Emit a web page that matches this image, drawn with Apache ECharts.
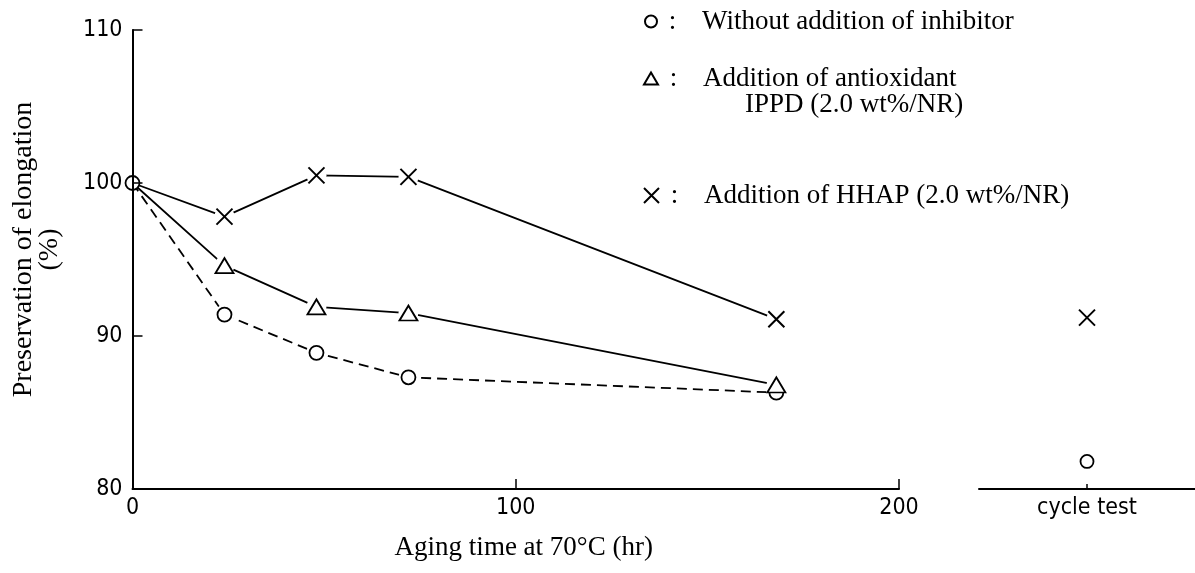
<!DOCTYPE html>
<html><head><meta charset="utf-8">
<script src="https://cdn.jsdelivr.net/npm/echarts@6/dist/echarts.min.js"></script>
<style>html,body{margin:0;padding:0;background:#fff}#c{width:1195px;height:573px}</style>
</head><body><div id="c"></div>
<script>
// ---- data ----
var times = [0, 24, 48, 72, 168];
var noInhibitor = [100, 91.4, 88.9, 87.3, 86.3];
var ippd = [100, 94.6, 91.9, 91.5, 86.8];
var hhap = [100, 97.8, 100.5, 100.4, 91.1];
var cycleCategories = ['cycle test'];
var cycleNoInhibitor = [81.8];
var cycleHhap = [91.2];
var yTickValues = [80, 90, 100, 110];
var xTickValues = [0, 100, 200];
var seriesNames = ['Without addition of inhibitor', 'Addition of antioxidant IPPD (2.0 wt%/NR)', 'Addition of HHAP (2.0 wt%/NR)'];
var xTitle = 'Aging time at 70\u00B0C (hr)';
var yTitle = 'Preservation of elongation\n(%)';

// ---- helpers ----
function pts(xs, ys, from) { return xs.map(function (x, i) { return [x, ys[i]]; }).slice(from || 0); }
var SERIF = 'Liberation Serif, Times New Roman, serif';
var NARROW = 'DejaVu Sans Condensed, Liberation Sans, sans-serif';
var X_PATH = 'path://M0,0L10,10M10,0L0,10';
var yMin = yTickValues[0], yMax = yTickValues[yTickValues.length - 1], yStep = yTickValues[1] - yTickValues[0];
var xMin = xTickValues[0], xMax = xTickValues[xTickValues.length - 1], xStep = xTickValues[1] - xTickValues[0];

var markerStyle = { color: '#fff', borderColor: '#000', borderWidth: 1.8, opacity: 1 };
var xStyle = { color: 'transparent', borderColor: '#000', borderWidth: 2, opacity: 1 };

var richText = {
  e: { fontFamily: SERIF, fontSize: 27, lineHeight: 26 },
  c: { fontFamily: SERIF, fontSize: 27, lineHeight: 26, width: 40, align: 'left', color: '#000' },
  i: { width: 42, lineHeight: 26 },
  t: { fontFamily: SERIF, fontSize: 27, lineHeight: 26, color: '#000' }
};
function legendFmt(name) {
  if (name === seriesNames[1]) {
    return '{e| }\n{c| :}{t|Addition of antioxidant}\n{c| }{i| }{t|IPPD (2.0 wt%/NR)}';
  }
  return '{c| :}{t|' + name + '}';
}
function mkLegend(name, left, top, w, h) {
  return {
    data: [name], left: left, top: top, itemWidth: w, itemHeight: h, padding: 0,
    selectedMode: false, formatter: legendFmt,
    textStyle: { rich: richText, color: '#000' }
  };
}

var chart = echarts.init(document.getElementById('c'), null, { renderer: 'canvas' });
chart.setOption({
  backgroundColor: '#fff',
  animation: false,
  legend: [
    mkLegend(seriesNames[0], 644, 8, 12, 12),
    mkLegend(seriesNames[1], 643, 39, 14, 12),
    mkLegend(seriesNames[2], 643, 182, 15, 15)
  ],
  grid: [
    { left: 132.5, top: 30, width: 766.5, height: 459 },
    { left: 979, top: 30, width: 222, height: 459 }
  ],
  xAxis: [
    {
      type: 'value', gridIndex: 0, min: xMin, max: xMax, interval: xStep,
      name: xTitle, nameLocation: 'middle', nameGap: 45,
      nameTextStyle: { fontFamily: SERIF, fontSize: 27, color: '#000', padding: [0, 0, 0, 16] },
      axisLine: { show: true, lineStyle: { color: '#000', width: 2 } },
      axisTick: { show: true, inside: true, length: 10, lineStyle: { color: '#000', width: 1.5 } },
      axisLabel: { margin: 8, fontFamily: NARROW, fontSize: 23, color: '#000' },
      splitLine: { show: false }
    },
    {
      type: 'category', gridIndex: 1, data: cycleCategories, boundaryGap: true,
      axisLine: { show: true, lineStyle: { color: '#000', width: 2 } },
      axisTick: { show: true, inside: true, alignWithLabel: true, length: 5, lineStyle: { color: '#000', width: 1.5 } },
      axisLabel: { margin: 8, fontFamily: NARROW, fontSize: 23, color: '#000' },
      splitLine: { show: false }
    }
  ],
  yAxis: [
    {
      type: 'value', gridIndex: 0, min: yMin, max: yMax, interval: yStep, z: 10,
      name: yTitle, nameLocation: 'middle', nameGap: 70, nameRotate: 90,
      nameTextStyle: { fontFamily: SERIF, fontSize: 28, lineHeight: 26, color: '#000', padding: [0, 0, 0, 20] },
      axisLine: { show: true, lineStyle: { color: '#000', width: 2 } },
      axisTick: { show: true, inside: true, length: 10, lineStyle: { color: '#000', width: 1.5 } },
      axisLabel: { margin: 10, fontFamily: NARROW, fontSize: 23, color: '#000' },
      splitLine: { show: false }
    },
    { type: 'value', gridIndex: 1, min: yMin, max: yMax, show: false, splitLine: { show: false } }
  ],
  series: [
    { name: '_l0', type: 'line', data: pts(times, noInhibitor), symbol: 'none', z: 2,
      lineStyle: { color: '#000', width: 1.8, type: [10, 6] } },
    { name: '_l1', type: 'line', data: pts(times, ippd), symbol: 'none', z: 2,
      lineStyle: { color: '#000', width: 1.8 } },
    { name: '_l2', type: 'line', data: pts(times, hhap), symbol: 'none', z: 2,
      lineStyle: { color: '#000', width: 1.8 } },
    { name: '_bg', type: 'scatter', z: 3, symbol: 'circle', symbolSize: 20,
      itemStyle: { color: '#fff', opacity: 1 },
      data: pts(times, noInhibitor, 1).concat(pts(times, ippd, 1), pts(times, hhap, 1)) },
    { name: seriesNames[0], type: 'scatter', z: 4, symbol: 'circle', symbolSize: 14,
      itemStyle: markerStyle, data: pts(times, noInhibitor) },
    { name: seriesNames[1], type: 'scatter', z: 4, symbol: 'triangle', symbolSize: [18, 15],
      itemStyle: markerStyle, data: pts(times, ippd, 1) },
    { name: seriesNames[2], type: 'scatter', z: 4, symbol: X_PATH, symbolSize: 16,
      itemStyle: xStyle, data: pts(times, hhap, 1) },
    { name: seriesNames[0], type: 'scatter', xAxisIndex: 1, yAxisIndex: 1, z: 4, symbol: 'circle', symbolSize: 13,
      itemStyle: markerStyle, data: cycleCategories.map(function (c, i) { return [c, cycleNoInhibitor[i]]; }) },
    { name: seriesNames[2], type: 'scatter', xAxisIndex: 1, yAxisIndex: 1, z: 4, symbol: X_PATH, symbolSize: 16,
      itemStyle: xStyle, data: cycleCategories.map(function (c, i) { return [c, cycleHhap[i]]; }) }
  ]
});
</script>
</body></html>
